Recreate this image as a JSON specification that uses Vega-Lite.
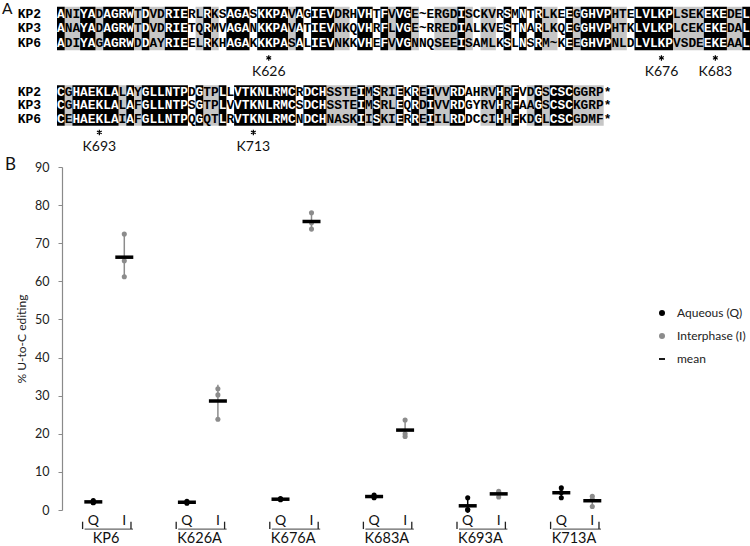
{
  "$schema": "https://vega.github.io/schema/vega-lite/v6.json",
  "width": 576,
  "height": 343,
  "autosize": "none",
  "padding": {"left": 62, "top": 167, "right": 112, "bottom": 36},
  "background": "white",
  "config": {
    "view": {"stroke": null},
    "font": "Lato",
    "axisY": {
      "grid": true, "gridColor": "#a6a6a6", "gridWidth": 1.2,
      "domainColor": "#8a8a8a", "domainWidth": 1.2, "tickColor": "#8a8a8a", "tickSize": 4,
      "labelFont": "Lato", "labelFontSize": 12.5, "labelColor": "#222", "labelPadding": 9,
      "values": [0, 10, 20, 30, 40, 50, 60, 70, 80, 90],
      "titleFont": "Lato", "titleFontSize": 12, "titleFontWeight": "normal", "titleColor": "#222", "titlePadding": 6
    }
  },
  "datasets": {
    "edit": [
      {"g": "KP6", "p": "Q", "v": 2.5}, {"g": "KP6", "p": "Q", "v": 2.0}, {"g": "KP6", "p": "Q", "v": 1.9},
      {"g": "KP6", "p": "I", "v": 72.4}, {"g": "KP6", "p": "I", "v": 65.4}, {"g": "KP6", "p": "I", "v": 61.2},
      {"g": "K626A", "p": "Q", "v": 2.3}, {"g": "K626A", "p": "Q", "v": 2.0}, {"g": "K626A", "p": "Q", "v": 1.8},
      {"g": "K626A", "p": "I", "v": 31.8}, {"g": "K626A", "p": "I", "v": 30.2}, {"g": "K626A", "p": "I", "v": 23.8},
      {"g": "K676A", "p": "Q", "v": 3.0}, {"g": "K676A", "p": "Q", "v": 2.8}, {"g": "K676A", "p": "Q", "v": 2.7},
      {"g": "K676A", "p": "I", "v": 78.0}, {"g": "K676A", "p": "I", "v": 75.4}, {"g": "K676A", "p": "I", "v": 73.7},
      {"g": "K683A", "p": "Q", "v": 3.9}, {"g": "K683A", "p": "Q", "v": 3.5}, {"g": "K683A", "p": "Q", "v": 3.2},
      {"g": "K683A", "p": "I", "v": 23.6}, {"g": "K683A", "p": "I", "v": 20.0}, {"g": "K683A", "p": "I", "v": 19.3},
      {"g": "K693A", "p": "Q", "v": 3.2}, {"g": "K693A", "p": "Q", "v": 0.1}, {"g": "K693A", "p": "Q", "v": 0.0},
      {"g": "K693A", "p": "I", "v": 4.9}, {"g": "K693A", "p": "I", "v": 4.4}, {"g": "K693A", "p": "I", "v": 3.4},
      {"g": "K713A", "p": "Q", "v": 5.8}, {"g": "K713A", "p": "Q", "v": 4.6}, {"g": "K713A", "p": "Q", "v": 3.2},
      {"g": "K713A", "p": "I", "v": 3.6}, {"g": "K713A", "p": "I", "v": 2.8}, {"g": "K713A", "p": "I", "v": 0.9}
    ],
    "names": [
      {"name": "KP2", "ln": 1}, {"name": "KP3", "ln": 2}, {"name": "KP6", "ln": 3},
      {"name": "KP2", "ln": 6.379}, {"name": "KP3", "ln": 7.31}, {"name": "KP6", "ln": 8.241}
    ],
    "nruns": [
      {"ln": 1, "a": 2, "t": "NI"}, {"ln": 1, "a": 6, "t": "D"}, {"ln": 1, "a": 11, "t": "T"}, {"ln": 1, "a": 13, "t": "VD"},
      {"ln": 1, "a": 18, "t": "RL"}, {"ln": 1, "a": 21, "t": "KS"}, {"ln": 1, "a": 26, "t": "S"}, {"ln": 1, "a": 31, "t": "V"},
      {"ln": 1, "a": 33, "t": "G"}, {"ln": 1, "a": 37, "t": "DRH"}, {"ln": 1, "a": 42, "t": "T"}, {"ln": 1, "a": 44, "t": "V"},
      {"ln": 1, "a": 47, "t": "E~ERGD"}, {"ln": 1, "a": 54, "t": "SCKVR"}, {"ln": 1, "a": 60, "t": "M"}, {"ln": 1, "a": 62, "t": "T"},
      {"ln": 1, "a": 64, "t": "LKE"}, {"ln": 1, "a": 68, "t": "G"}, {"ln": 1, "a": 73, "t": "HTE"}, {"ln": 1, "a": 81, "t": "LSEK"},
      {"ln": 1, "a": 88, "t": "DE"},
      {"ln": 2, "a": 2, "t": "NA"}, {"ln": 2, "a": 6, "t": "D"}, {"ln": 2, "a": 11, "t": "T"}, {"ln": 2, "a": 13, "t": "VD"},
      {"ln": 2, "a": 18, "t": "TQ"}, {"ln": 2, "a": 21, "t": "MV"}, {"ln": 2, "a": 26, "t": "N"}, {"ln": 2, "a": 31, "t": "V"},
      {"ln": 2, "a": 33, "t": "T"}, {"ln": 2, "a": 37, "t": "NKQ"}, {"ln": 2, "a": 42, "t": "R"}, {"ln": 2, "a": 44, "t": "L"},
      {"ln": 2, "a": 47, "t": "E~RRED"}, {"ln": 2, "a": 54, "t": "ALKVE"}, {"ln": 2, "a": 60, "t": "T"}, {"ln": 2, "a": 62, "t": "A"},
      {"ln": 2, "a": 64, "t": "LKQ"}, {"ln": 2, "a": 68, "t": "G"}, {"ln": 2, "a": 73, "t": "HTK"}, {"ln": 2, "a": 81, "t": "LCEK"},
      {"ln": 2, "a": 88, "t": "DA"},
      {"ln": 3, "a": 2, "t": "DI"}, {"ln": 3, "a": 6, "t": "G"}, {"ln": 3, "a": 11, "t": "D"}, {"ln": 3, "a": 13, "t": "AY"},
      {"ln": 3, "a": 18, "t": "EL"}, {"ln": 3, "a": 21, "t": "KH"}, {"ln": 3, "a": 26, "t": "K"}, {"ln": 3, "a": 31, "t": "S"},
      {"ln": 3, "a": 33, "t": "L"}, {"ln": 3, "a": 37, "t": "NKK"}, {"ln": 3, "a": 42, "t": "E"}, {"ln": 3, "a": 44, "t": "V"},
      {"ln": 3, "a": 47, "t": "NNQSEE"}, {"ln": 3, "a": 54, "t": "SAMLK"}, {"ln": 3, "a": 60, "t": "L"}, {"ln": 3, "a": 62, "t": "S"},
      {"ln": 3, "a": 64, "t": "M~K"}, {"ln": 3, "a": 68, "t": "E"}, {"ln": 3, "a": 73, "t": "NLD"}, {"ln": 3, "a": 81, "t": "VSDE"},
      {"ln": 3, "a": 88, "t": "AA"},
      {"ln": 6.379, "a": 2, "t": "G"}, {"ln": 6.379, "a": 9, "t": "L"}, {"ln": 6.379, "a": 11, "t": "Y"}, {"ln": 6.379, "a": 18, "t": "D"},
      {"ln": 6.379, "a": 20, "t": "TP"}, {"ln": 6.379, "a": 23, "t": "L"}, {"ln": 6.379, "a": 32, "t": "R"}, {"ln": 6.379, "a": 36, "t": "SSTE"},
      {"ln": 6.379, "a": 41, "t": "M"}, {"ln": 6.379, "a": 43, "t": "RI"}, {"ln": 6.379, "a": 46, "t": "K"}, {"ln": 6.379, "a": 48, "t": "E"},
      {"ln": 6.379, "a": 50, "t": "VV"}, {"ln": 6.379, "a": 54, "t": "AHRV"}, {"ln": 6.379, "a": 59, "t": "R"}, {"ln": 6.379, "a": 61, "t": "VD"},
      {"ln": 6.379, "a": 64, "t": "S"}, {"ln": 6.379, "a": 68, "t": "GGRP*"},
      {"ln": 7.31, "a": 2, "t": "G"}, {"ln": 7.31, "a": 9, "t": "L"}, {"ln": 7.31, "a": 11, "t": "F"}, {"ln": 7.31, "a": 18, "t": "S"},
      {"ln": 7.31, "a": 20, "t": "TP"}, {"ln": 7.31, "a": 23, "t": "V"}, {"ln": 7.31, "a": 32, "t": "S"}, {"ln": 7.31, "a": 36, "t": "SSTE"},
      {"ln": 7.31, "a": 41, "t": "M"}, {"ln": 7.31, "a": 43, "t": "RL"}, {"ln": 7.31, "a": 46, "t": "Q"}, {"ln": 7.31, "a": 48, "t": "D"},
      {"ln": 7.31, "a": 50, "t": "VV"}, {"ln": 7.31, "a": 54, "t": "GYRV"}, {"ln": 7.31, "a": 59, "t": "R"}, {"ln": 7.31, "a": 61, "t": "AA"},
      {"ln": 7.31, "a": 64, "t": "S"}, {"ln": 7.31, "a": 68, "t": "KGRP*"},
      {"ln": 8.241, "a": 2, "t": "E"}, {"ln": 8.241, "a": 9, "t": "I"}, {"ln": 8.241, "a": 11, "t": "F"}, {"ln": 8.241, "a": 18, "t": "Q"},
      {"ln": 8.241, "a": 20, "t": "QT"}, {"ln": 8.241, "a": 23, "t": "R"}, {"ln": 8.241, "a": 32, "t": "N"}, {"ln": 8.241, "a": 36, "t": "NASK"},
      {"ln": 8.241, "a": 41, "t": "I"}, {"ln": 8.241, "a": 43, "t": "KI"}, {"ln": 8.241, "a": 46, "t": "R"}, {"ln": 8.241, "a": 48, "t": "E"},
      {"ln": 8.241, "a": 50, "t": "IL"}, {"ln": 8.241, "a": 54, "t": "DCCI"}, {"ln": 8.241, "a": 59, "t": "H"}, {"ln": 8.241, "a": 61, "t": "KD"},
      {"ln": 8.241, "a": 64, "t": "L"}, {"ln": 8.241, "a": 68, "t": "GDMF*"}
    ],
    "gruns": [
      {"blk": 1, "a": 2, "z": 3}, {"blk": 1, "a": 6, "z": 6}, {"blk": 1, "a": 11, "z": 11}, {"blk": 1, "a": 13, "z": 14},
      {"blk": 1, "a": 19, "z": 19}, {"blk": 1, "a": 21, "z": 21}, {"blk": 1, "a": 31, "z": 31}, {"blk": 1, "a": 37, "z": 38},
      {"blk": 1, "a": 44, "z": 44}, {"blk": 1, "a": 47, "z": 47}, {"blk": 1, "a": 50, "z": 52}, {"blk": 1, "a": 54, "z": 54},
      {"blk": 1, "a": 56, "z": 57}, {"blk": 1, "a": 64, "z": 65}, {"blk": 1, "a": 68, "z": 68}, {"blk": 1, "a": 73, "z": 74},
      {"blk": 1, "a": 81, "z": 84}, {"blk": 1, "a": 88, "z": 89},
      {"blk": 2, "a": 2, "z": 2}, {"blk": 2, "a": 9, "z": 9}, {"blk": 2, "a": 11, "z": 11}, {"blk": 2, "a": 20, "z": 21},
      {"blk": 2, "a": 36, "z": 39}, {"blk": 2, "a": 41, "z": 41}, {"blk": 2, "a": 43, "z": 44}, {"blk": 2, "a": 48, "z": 48},
      {"blk": 2, "a": 50, "z": 51}, {"blk": 2, "a": 56, "z": 57}, {"blk": 2, "a": 59, "z": 59}, {"blk": 2, "a": 62, "z": 62},
      {"blk": 2, "a": 64, "z": 64}, {"blk": 2, "a": 68, "z": 71}
    ],
    "bruns": [
      {"blk": 1, "a": 1, "z": 1, "t": "A"}, {"blk": 1, "a": 4, "z": 5, "t": "YA"}, {"blk": 1, "a": 7, "z": 10, "t": "AGRW"},
      {"blk": 1, "a": 12, "z": 12, "t": "D"}, {"blk": 1, "a": 15, "z": 17, "t": "RIE"}, {"blk": 1, "a": 20, "z": 20, "t": "R"},
      {"blk": 1, "a": 23, "z": 25, "t": "AGA"}, {"blk": 1, "a": 27, "z": 30, "t": "KKPA"}, {"blk": 1, "a": 32, "z": 32, "t": "A"},
      {"blk": 1, "a": 34, "z": 36, "t": "IEV"}, {"blk": 1, "a": 40, "z": 41, "t": "VH"}, {"blk": 1, "a": 43, "z": 43, "t": "F"},
      {"blk": 1, "a": 45, "z": 46, "t": "VG"}, {"blk": 1, "a": 53, "z": 53, "t": "I"}, {"blk": 1, "a": 59, "z": 59, "t": "S"},
      {"blk": 1, "a": 61, "z": 61, "t": "N"}, {"blk": 1, "a": 63, "z": 63, "t": "R"}, {"blk": 1, "a": 67, "z": 67, "t": "E"},
      {"blk": 1, "a": 69, "z": 72, "t": "GHVP"}, {"blk": 1, "a": 76, "z": 80, "t": "LVLKP"}, {"blk": 1, "a": 85, "z": 87, "t": "EKE"},
      {"blk": 1, "a": 90, "z": 90, "t": "L"},
      {"blk": 2, "a": 1, "z": 1, "t": "C"}, {"blk": 2, "a": 3, "z": 8, "t": "HAEKLA"}, {"blk": 2, "a": 10, "z": 10, "t": "A"},
      {"blk": 2, "a": 12, "z": 17, "t": "GLLNTP"}, {"blk": 2, "a": 19, "z": 19, "t": "G"}, {"blk": 2, "a": 22, "z": 22, "t": "L"},
      {"blk": 2, "a": 24, "z": 31, "t": "VTKNLRMC"}, {"blk": 2, "a": 33, "z": 35, "t": "DCH"}, {"blk": 2, "a": 40, "z": 40, "t": "I"},
      {"blk": 2, "a": 42, "z": 42, "t": "S"}, {"blk": 2, "a": 45, "z": 45, "t": "E"}, {"blk": 2, "a": 47, "z": 47, "t": "R"},
      {"blk": 2, "a": 49, "z": 49, "t": "I"}, {"blk": 2, "a": 52, "z": 53, "t": "RD"}, {"blk": 2, "a": 58, "z": 58, "t": "H"},
      {"blk": 2, "a": 60, "z": 60, "t": "F"}, {"blk": 2, "a": 63, "z": 63, "t": "G"}, {"blk": 2, "a": 65, "z": 67, "t": "CSC"}
    ],
    "sites": [
      {"site": "K626", "col": 28, "ln": 4.03},
      {"site": "K676", "col": 79, "ln": 4.03},
      {"site": "K683", "col": 86, "ln": 4.03},
      {"site": "K693", "col": 6, "ln": 9.17},
      {"site": "K713", "col": 26, "ln": 9.17}
    ]
  },
  "layer": [
    {
      "layer": [
        {
          "data": {"name": "gruns"},
          "transform": [{"filter": "datum.blk == 1"}],
          "mark": {"type": "rect", "color": "#c6c6c6", "xOffset": -3.85, "x2Offset": 3.85},
          "encoding": {
            "x": {"field": "a", "type": "quantitative", "scale": {"domain": [1.1494, 75.955], "nice": false, "zero": false}, "axis": null},
            "x2": {"field": "z"},
            "y": {"datum": 0.5, "type": "quantitative", "scale": {"domain": [11.552, 35.207], "nice": false, "zero": false, "reverse": true}, "axis": null},
            "y2": {"datum": 3.5}
          }
        },
        {
          "data": {"name": "gruns"},
          "transform": [{"filter": "datum.blk == 2"}],
          "mark": {"type": "rect", "color": "#c6c6c6", "xOffset": -3.85, "x2Offset": 3.85},
          "encoding": {
            "x": {"field": "a", "type": "quantitative", "axis": null},
            "x2": {"field": "z"},
            "y": {"datum": 5.914, "type": "quantitative", "axis": null},
            "y2": {"datum": 8.707}
          }
        },
        {
          "data": {"name": "bruns"},
          "transform": [{"filter": "datum.blk == 1"}],
          "mark": {"type": "rect", "color": "#000", "xOffset": -3.85, "x2Offset": 3.85},
          "encoding": {
            "x": {"field": "a", "type": "quantitative", "axis": null},
            "x2": {"field": "z"},
            "y": {"datum": 0.5, "type": "quantitative", "axis": null},
            "y2": {"datum": 3.5}
          }
        },
        {
          "data": {"name": "bruns"},
          "transform": [{"filter": "datum.blk == 2"}],
          "mark": {"type": "rect", "color": "#000", "xOffset": -3.85, "x2Offset": 3.85},
          "encoding": {
            "x": {"field": "a", "type": "quantitative", "axis": null},
            "x2": {"field": "z"},
            "y": {"datum": 5.914, "type": "quantitative", "axis": null},
            "y2": {"datum": 8.707}
          }
        },
        {
          "data": {"name": "names"},
          "mark": {"type": "text", "align": "left", "baseline": "middle", "font": "Liberation Mono", "fontWeight": "bold", "fontSize": 13, "color": "#000"},
          "encoding": {
            "x": {"datum": -4.6, "type": "quantitative", "axis": null},
            "y": {"field": "ln", "type": "quantitative", "axis": null},
            "text": {"field": "name"}
          }
        },
        {
          "data": {"name": "nruns"},
          "mark": {"type": "text", "align": "left", "baseline": "middle", "font": "Liberation Mono", "fontWeight": "bold", "fontSize": 12.833, "color": "#000", "xOffset": -3.85},
          "encoding": {
            "x": {"field": "a", "type": "quantitative", "axis": null},
            "y": {"field": "ln", "type": "quantitative", "axis": null},
            "text": {"field": "t"}
          }
        },
        {
          "data": {"name": "bruns"},
          "transform": [{"filter": "datum.blk == 1"}],
          "mark": {"type": "text", "align": "left", "baseline": "middle", "font": "Liberation Mono", "fontWeight": "bold", "fontSize": 12.833, "color": "#fff", "xOffset": -3.85},
          "encoding": {"x": {"field": "a", "type": "quantitative", "axis": null}, "y": {"datum": 1, "type": "quantitative", "axis": null}, "text": {"field": "t"}}
        },
        {
          "data": {"name": "bruns"},
          "transform": [{"filter": "datum.blk == 1"}],
          "mark": {"type": "text", "align": "left", "baseline": "middle", "font": "Liberation Mono", "fontWeight": "bold", "fontSize": 12.833, "color": "#fff", "xOffset": -3.85},
          "encoding": {"x": {"field": "a", "type": "quantitative", "axis": null}, "y": {"datum": 2, "type": "quantitative", "axis": null}, "text": {"field": "t"}}
        },
        {
          "data": {"name": "bruns"},
          "transform": [{"filter": "datum.blk == 1"}],
          "mark": {"type": "text", "align": "left", "baseline": "middle", "font": "Liberation Mono", "fontWeight": "bold", "fontSize": 12.833, "color": "#fff", "xOffset": -3.85},
          "encoding": {"x": {"field": "a", "type": "quantitative", "axis": null}, "y": {"datum": 3, "type": "quantitative", "axis": null}, "text": {"field": "t"}}
        },
        {
          "data": {"name": "bruns"},
          "transform": [{"filter": "datum.blk == 2"}],
          "mark": {"type": "text", "align": "left", "baseline": "middle", "font": "Liberation Mono", "fontWeight": "bold", "fontSize": 12.833, "color": "#fff", "xOffset": -3.85},
          "encoding": {"x": {"field": "a", "type": "quantitative", "axis": null}, "y": {"datum": 6.379, "type": "quantitative", "axis": null}, "text": {"field": "t"}}
        },
        {
          "data": {"name": "bruns"},
          "transform": [{"filter": "datum.blk == 2"}],
          "mark": {"type": "text", "align": "left", "baseline": "middle", "font": "Liberation Mono", "fontWeight": "bold", "fontSize": 12.833, "color": "#fff", "xOffset": -3.85},
          "encoding": {"x": {"field": "a", "type": "quantitative", "axis": null}, "y": {"datum": 7.31, "type": "quantitative", "axis": null}, "text": {"field": "t"}}
        },
        {
          "data": {"name": "bruns"},
          "transform": [{"filter": "datum.blk == 2"}],
          "mark": {"type": "text", "align": "left", "baseline": "middle", "font": "Liberation Mono", "fontWeight": "bold", "fontSize": 12.833, "color": "#fff", "xOffset": -3.85},
          "encoding": {"x": {"field": "a", "type": "quantitative", "axis": null}, "y": {"datum": 8.241, "type": "quantitative", "axis": null}, "text": {"field": "t"}}
        },
        {
          "data": {"name": "sites"},
          "mark": {"type": "point", "filled": false, "shape": "M0,-1L0,1M-0.87,-0.5L0.87,0.5M-0.87,0.5L0.87,-0.5", "size": 30, "strokeWidth": 1.2, "color": "#000", "opacity": 1},
          "encoding": {
            "x": {"field": "col", "type": "quantitative", "axis": null},
            "y": {"field": "ln", "type": "quantitative", "axis": null}
          }
        },
        {
          "data": {"name": "sites"},
          "mark": {"type": "text", "align": "center", "baseline": "middle", "font": "Lato", "fontSize": 14, "dy": 14.5, "color": "#111"},
          "encoding": {
            "x": {"field": "col", "type": "quantitative", "axis": null},
            "y": {"field": "ln", "type": "quantitative", "axis": null},
            "text": {"field": "site"}
          }
        },
        {
          "data": {"values": [{}]},
          "mark": {"type": "text", "align": "left", "baseline": "middle", "font": "Lato", "fontSize": 15.5, "text": "A", "color": "#111"},
          "encoding": {
            "x": {"datum": -6.64, "type": "quantitative", "axis": null},
            "y": {"datum": 0.69, "type": "quantitative", "axis": null}
          }
        },
        {
          "data": {"values": [{}]},
          "mark": {"type": "text", "align": "left", "baseline": "middle", "font": "Lato", "fontSize": 17, "text": "B", "color": "#111"},
          "encoding": {
            "x": {"datum": -6.25, "type": "quantitative", "axis": null},
            "y": {"datum": 11.41, "type": "quantitative", "axis": null}
          }
        }
      ]
    },
    {
      "data": {"name": "edit"},
      "layer": [
        {
          "transform": [{"filter": "datum.p == 'I'"}],
          "mark": {"type": "errorbar", "extent": "stdev", "color": "#8c8c8c", "thickness": 1.5},
          "encoding": {
            "x": {"field": "g", "type": "nominal", "scale": {"type": "band", "domain": ["KP6", "K626A", "K676A", "K683A", "K693A", "K713A"], "paddingInner": 0, "paddingOuter": 0.0769, "align": 0}, "axis": null},
            "xOffset": {"field": "p", "type": "nominal", "scale": {"type": "band", "domain": ["Q", "I"], "paddingInner": 0, "paddingOuter": 0.51}},
            "y": {"field": "v", "type": "quantitative", "scale": {"domain": [0, 90], "nice": false, "zero": false}, "title": "% U-to-C editing"}
          }
        },
        {
          "transform": [{"filter": "datum.p == 'Q'"}],
          "mark": {"type": "errorbar", "extent": "stdev", "color": "#000000", "thickness": 1.5},
          "encoding": {
            "x": {"field": "g", "type": "nominal", "axis": null},
            "xOffset": {"field": "p", "type": "nominal"},
            "y": {"field": "v", "type": "quantitative", "title": "% U-to-C editing"}
          }
        },
        {
          "mark": {"type": "point", "filled": true, "size": 26, "opacity": 1},
          "encoding": {
            "x": {"field": "g", "type": "nominal", "axis": null},
            "xOffset": {"field": "p", "type": "nominal"},
            "y": {"field": "v", "type": "quantitative", "title": "% U-to-C editing"},
            "color": {
              "field": "p", "type": "nominal",
              "scale": {"domain": ["Q", "I", "mean"], "range": ["#000000", "#8c8c8c", "#000000"]},
              "legend": {"orient": "none", "legendX": 594, "legendY": 140, "title": null, "padding": 0,
                "labelExpr": "datum.label == 'Q' ? 'Aqueous (Q)' : datum.label == 'I' ? 'Interphase (I)' : 'mean'",
                "symbolSize": 36, "labelFont": "Lato", "labelFontSize": 12, "labelColor": "#222", "rowPadding": 11, "labelOffset": 9}
            },
            "shape": {
              "field": "p", "type": "nominal",
              "scale": {"domain": ["Q", "I", "mean"], "range": ["circle", "circle", "M-1,-0.3H1V0.3H-1Z"]},
              "legend": {"orient": "none", "legendX": 594, "legendY": 140, "title": null, "padding": 0,
                "labelExpr": "datum.label == 'Q' ? 'Aqueous (Q)' : datum.label == 'I' ? 'Interphase (I)' : 'mean'",
                "symbolSize": 36, "labelFont": "Lato", "labelFontSize": 12, "labelColor": "#222", "rowPadding": 11, "labelOffset": 9}
            }
          }
        },
        {
          "mark": {"type": "tick", "orient": "horizontal", "thickness": 3.5, "size": 18, "color": "#000"},
          "encoding": {
            "x": {"field": "g", "type": "nominal", "axis": null},
            "xOffset": {"field": "p", "type": "nominal"},
            "y": {"aggregate": "mean", "field": "v", "type": "quantitative", "title": "% U-to-C editing"}
          }
        },
        {
          "transform": [{"aggregate": [{"op": "count", "as": "n"}], "groupby": ["g"]}],
          "mark": {"type": "rule", "color": "#222", "strokeWidth": 1.3},
          "encoding": {
            "x": {"field": "g", "type": "nominal", "bandPosition": 0.22, "axis": null},
            "y": {"datum": -5.0, "type": "quantitative"},
            "y2": {"datum": -3.07}
          }
        },
        {
          "transform": [{"aggregate": [{"op": "count", "as": "n"}], "groupby": ["g"]}],
          "mark": {"type": "rule", "color": "#222", "strokeWidth": 1.3},
          "encoding": {
            "x": {"field": "g", "type": "nominal", "bandPosition": 0.737, "axis": null},
            "y": {"datum": -5.0, "type": "quantitative"},
            "y2": {"datum": -3.07}
          }
        },
        {
          "transform": [{"aggregate": [{"op": "count", "as": "n"}], "groupby": ["g"]}],
          "mark": {"type": "tick", "orient": "horizontal", "color": "#222", "thickness": 1.3, "size": 48.4},
          "encoding": {
            "x": {"field": "g", "type": "nominal", "bandPosition": 0.4785, "axis": null},
            "y": {"datum": -5.0, "type": "quantitative"}
          }
        },
        {
          "transform": [{"aggregate": [{"op": "count", "as": "n"}], "groupby": ["g", "p"]}],
          "mark": {"type": "text", "align": "center", "baseline": "middle", "font": "Lato", "fontSize": 14, "color": "#111"},
          "encoding": {
            "x": {"field": "g", "type": "nominal", "axis": null},
            "xOffset": {"field": "p", "type": "nominal"},
            "y": {"datum": -2.9, "type": "quantitative"},
            "text": {"field": "p"}
          }
        },
        {
          "transform": [{"aggregate": [{"op": "count", "as": "n"}], "groupby": ["g"]}],
          "mark": {"type": "text", "align": "center", "baseline": "middle", "font": "Lato", "fontSize": 14.5, "color": "#111"},
          "encoding": {
            "x": {"field": "g", "type": "nominal", "bandPosition": 0.47, "axis": null},
            "y": {"datum": -7.6, "type": "quantitative"},
            "text": {"field": "g"}
          }
        }
      ]
    }
  ],
  "resolve": {"scale": {"x": "independent", "y": "independent"}}
}
